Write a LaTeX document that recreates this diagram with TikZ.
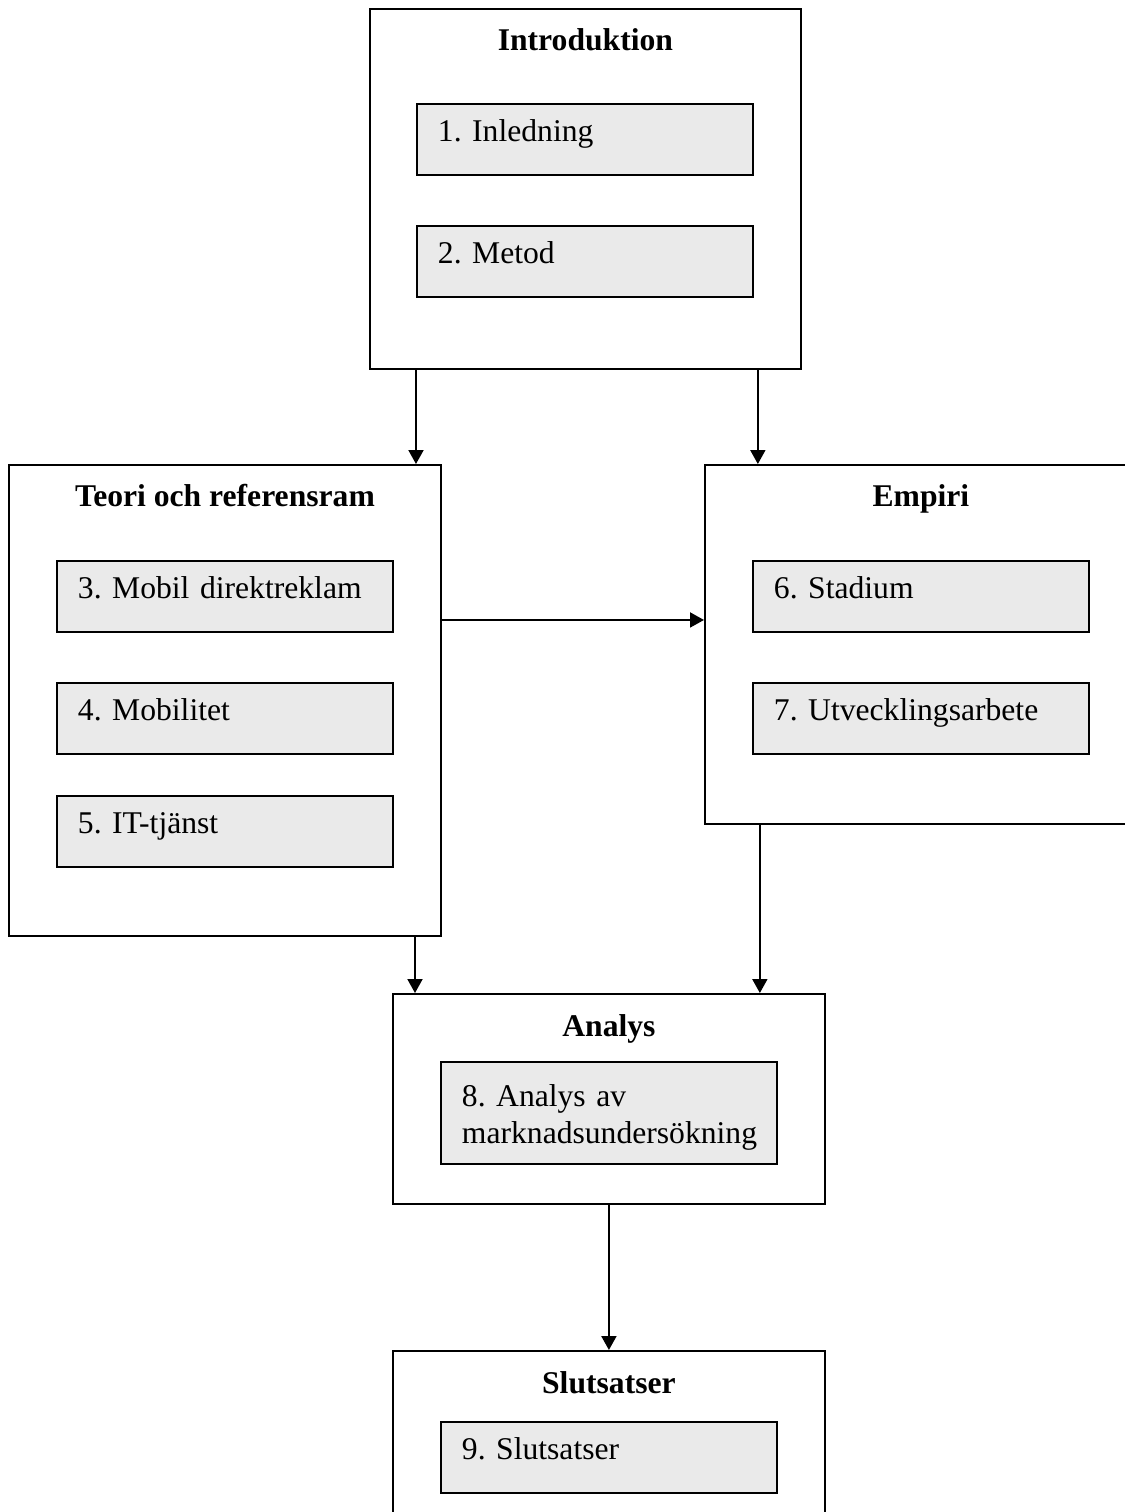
\documentclass[tikz,border=0pt]{standalone}
\usepackage{fontspec}
\setmainfont{Liberation Serif}
\usepackage{tikz}
\usetikzlibrary{arrows.meta, positioning, calc}
\definecolor{boxgrey}{RGB}{234,234,234}

\begin{document}
\frenchspacing
\begin{tikzpicture}[
    x=0.02cm, y=-0.02cm,
    font=\fontsize{18}{21}\selectfont,
    frame/.style={rectangle, draw, line width=1.1pt, anchor=north west, inner sep=0pt, minimum width=8.64cm},
    part/.style={rectangle, draw, line width=1.1pt, fill=boxgrey, minimum width=6.72cm, minimum height=1.42cm, inner xsep=0.42cm, text width=5.88cm, align=left, text height=0.7em, text depth=0.45em},
    title/.style={anchor=base, font=\fontsize{18}{21}\selectfont\bfseries},
    arrow/.style={-{Triangle[width=0.3cm,length=0.28cm]}, line width=1.1pt}
]
\useasboundingbox[fill=white] (0,0) rectangle (1125,1512);

% Introduktion
\node[frame, minimum width=8.62cm, minimum height=7.2cm] (intro) at (369,8) {};
\node[title] (introtitle) at ([yshift=-0.86cm]intro.north) {Introduktion};
\node[part, below right=1.9cm and 0.94cm of intro.north west] (inl) {1. Inledning};
\node[part, below=0.98cm of inl] (met) {2. Metod};

% Teori och referensram
\node[frame, minimum height=9.42cm] (teori) at (8,464) {};
\node[title] (teorititle) at ([yshift=-0.84cm]teori.north) {Teori och referensram};
\node[part, below right=1.92cm and 0.96cm of teori.north west] (dir) {3. Mobil direktreklam};
\node[part, below=0.98cm of dir] (mobi) {4. Mobilitet};
\node[part, below=0.8cm of mobi] (itt) {5. IT-tjänst};

% Empiri
\node[frame, minimum height=7.18cm] (emp) at (704,464) {};
\node[title] (emptitle) at ([yshift=-0.84cm]emp.north) {Empiri};
\node[part, below right=1.92cm and 0.96cm of emp.north west] (stad) {6. Stadium};
\node[part, below=0.98cm of stad] (utv) {7. Utvecklingsarbete};

% Analys
\node[frame, minimum height=4.2cm] (ana) at (392,993) {};
\node[title] (anatitle) at ([yshift=-0.86cm]ana.north) {Analys};
\node[part, minimum height=2.04cm, text depth=1.4em, below right=1.36cm and 0.96cm of ana.north west] (mark) {8. Analys av\\marknadsundersökning};

% Slutsatser
\node[frame, minimum height=4.2cm] (slut) at (392,1350) {};
\node[title] (sluttitle) at ([yshift=-0.86cm]slut.north) {Slutsatser};
\node[part, below right=1.42cm and 0.96cm of slut.north west] (sats) {9. Slutsatser};

% Connectors
\coordinate (it) at ([xshift=0.94cm]intro.south west);
\coordinate (ie) at ([xshift=-0.88cm]intro.south east);
\coordinate (te) at ([yshift=-3.12cm]teori.north east);
\coordinate (ta) at ([xshift=0.46cm]ana.north west);
\coordinate (ea) at ([xshift=-1.32cm]ana.north east);

\draw[arrow] (it) -- (it |- teori.north);
\draw[arrow] (ie) -- (ie |- emp.north);
\draw[arrow] (te) -- (te -| emp.west);
\draw[arrow] (ta |- teori.south) -- (ta);
\draw[arrow] (ea |- emp.south) -- (ea);
\draw[arrow] (ana.south) -- (slut.north);

\end{tikzpicture}
\end{document}
